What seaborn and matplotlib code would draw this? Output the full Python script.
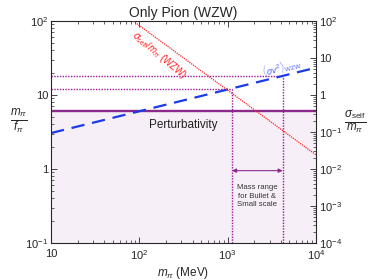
import numpy as np
import pandas as pd
import matplotlib
matplotlib.use("Agg")
import matplotlib.pyplot as plt
import seaborn as sns

# ---- data ----
blue_m = [10, 1e4]            # (sigma v^2)_WZW line, left-axis units
blue_y = [3.06, 23.4]
red_m = [85, 1e4]             # sigma_self/m_pi (WZW), right-axis units
red_y = [100, 0.024]
pert_level = 6.1              # perturbativity bound m_pi/f_pi
mass_lo, mass_hi = 1120, 4200 # mass range for Bullet & small scale
y_lo, y_hi = 12.2, 18.2       # m_pi/f_pi at the two ends
x_ticks = [10, 1e2, 1e3, 1e4]
x_tick_labels = ["10", r"$10^2$", r"$10^3$", r"$10^4$"]
left_ticks = [0.1, 1, 10, 100]
left_tick_labels = [r"$10^{-1}$", "1", "10", r"$10^2$"]
right_ticks = [1e-4, 1e-3, 1e-2, 1e-1, 1, 10, 100]
right_tick_labels = [r"$10^{-4}$", r"$10^{-3}$", r"$10^{-2}$", r"$10^{-1}$", "1", "10", r"$10^2$"]

sns.set_style("ticks")
plt.rcParams["font.family"] = ["Liberation Sans", "DejaVu Sans"]
plt.rcParams["mathtext.fontset"] = "custom"
plt.rcParams["mathtext.rm"] = "Liberation Sans"
plt.rcParams["mathtext.it"] = "Liberation Sans:italic"

fig = plt.figure(figsize=(3.74, 2.8), dpi=100)
ax = fig.add_axes([51/374, 1-243/280, 265/374, 222/280])
ax.set_xscale("log"); ax.set_yscale("log")
ax.set_xlim(10, 1e4); ax.set_ylim(0.1, 100)

purple = "#8b2a8b"
dotc = "#9a169a"

# shaded perturbative region
ax.axhspan(0.1, pert_level, color="#f7eff7", zorder=0, lw=0)
ax.axhline(pert_level, color=purple, lw=1.7, zorder=2)

# blue dashed
sns.lineplot(x=blue_m, y=blue_y, ax=ax, color="#1a3be8", lw=1.6,
             linestyle=(0, (6, 3.5)), zorder=3)

# dotted purple guide lines
ax.plot([10, mass_hi], [y_hi, y_hi], color=dotc, lw=1.0, ls=(0, (1, 1)), zorder=2)
ax.plot([10, mass_lo], [y_lo, y_lo], color=dotc, lw=1.0, ls=(0, (1, 1)), zorder=2)
ax.plot([mass_lo, mass_lo], [0.1, y_lo], color=dotc, lw=1.0, ls=(0, (1, 1)), zorder=2)
ax.plot([mass_hi, mass_hi], [0.1, y_hi], color=dotc, lw=1.0, ls=(0, (1, 1)), zorder=2)

# arrow for the mass range
ax.annotate("", xy=(mass_lo, 0.95), xytext=(mass_hi, 0.95),
            arrowprops=dict(arrowstyle="<|-|>", color=purple, lw=0.8,
                            mutation_scale=6, shrinkA=0, shrinkB=0))
ax.text(np.sqrt(mass_lo*mass_hi), 0.62, "Mass range\nfor Bullet &\nSmall scale",
        ha="center", va="top", fontsize=5.6, color="#333333", linespacing=1.3)

ax.text(130, 3.9, "Perturbativity", fontsize=8.5, color="#222222", ha="left", va="center")

ax.set_xticks(x_ticks); ax.set_xticklabels(x_tick_labels, fontsize=8)
ax.set_yticks(left_ticks); ax.set_yticklabels(left_tick_labels, fontsize=8)
ax.tick_params(which="both", direction="in", top=True, right=False)
ax.tick_params(which="major", length=4, width=0.6)
ax.tick_params(axis="y", pad=2)
ax.tick_params(axis="x", pad=4)
ax.tick_params(which="minor", length=2, width=0.5)
ax.set_xlabel(r"$m_\pi$ (MeV)", fontsize=8.5, labelpad=2)
ax.set_title("Only Pion (WZW)", fontsize=10, pad=3)
fig.text(0.05, 0.565, r"$\frac{m_\pi}{f_\pi}$", fontsize=12, ha="center", va="center")
for s in ax.spines.values():
    s.set_linewidth(0.7); s.set_color("#333333")

# right axis
ax2 = ax.twinx()
ax2.set_yscale("log"); ax2.set_ylim(1e-4, 100)
sns.lineplot(x=red_m, y=red_y, ax=ax2, color="#ff2020", lw=0.9,
             linestyle=(0, (1, 0.8)), zorder=3)
ax2.set_yticks(right_ticks); ax2.set_yticklabels(right_tick_labels, fontsize=8)
ax2.tick_params(which="both", direction="in")
ax2.tick_params(which="major", length=4, width=0.6, pad=2)
ax2.tick_params(which="minor", length=2, width=0.5)
ax2.set_xlim(10, 1e4)
fig.text(0.95, 0.565, r"$\frac{\sigma_{\rm self}}{m_\pi}$", fontsize=12, ha="center", va="center")

ax.text(170, 34, r"$\sigma_{\rm self}/m_\pi$ (WZW)", color="#ff2020", fontsize=7,
        rotation=-40, ha="center", va="center", rotation_mode="anchor")
ax.text(4100, 24, r"$\langle\sigma v^2\rangle_{\rm WZW}$", color="#5060ff", fontsize=6.5,
        rotation=14, ha="center", va="center", rotation_mode="anchor")

fig.savefig("out.png", dpi=100)
